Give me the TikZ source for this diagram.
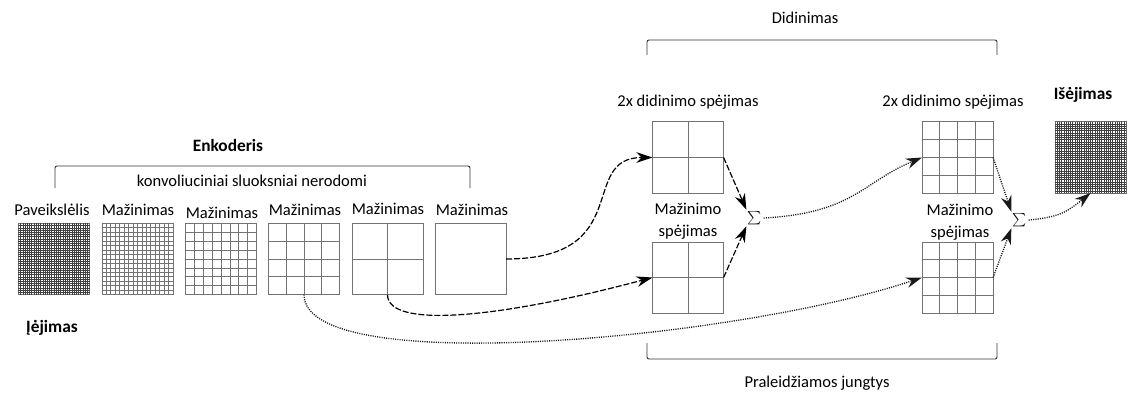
\documentclass[tikz,border=0pt]{standalone}
\usepackage{fontspec}
\setmainfont{Carlito}
\usetikzlibrary{arrows.meta, calc}

\tikzset{
    gridbox/.style={draw=black!55, line width=0.6pt, minimum size=53.4pt, inner sep=0pt, outer sep=0pt},
    gridline/.style={draw=black!55, line width=0.6pt},
    fineline/.style={draw=black!75, line width=0.45pt},
    bracket/.style={draw=black!80, line width=0.7pt, rounded corners=1.5pt},
    dashlink/.style={line width=0.9pt, dash pattern=on 4.5pt off 1.5pt, -{Stealth[length=12pt, width=8pt]}},
    dotlink/.style={draw=black!90, line width=1pt, dash pattern=on 0.8pt off 0.9pt, -{Stealth[length=12pt, width=8pt]}},
    title/.style={font=\fontsize{13}{15}\selectfont\bfseries}
}

% grid of #2 x #2 cells inside node #1
\newcommand{\cellgrid}[3]{%
    \foreach \k in {1,...,#2}{%
        \ifnum\k<#2\relax
            \draw[#3] ($(#1.north west)!\k/#2!(#1.north east)$) -- ($(#1.south west)!\k/#2!(#1.south east)$);
            \draw[#3] ($(#1.north west)!\k/#2!(#1.south west)$) -- ($(#1.north east)!\k/#2!(#1.south east)$);
        \fi}}

\begin{document}
\begin{tikzpicture}[x=0.75pt, y=0.75pt, every node/.style={font=\fontsize{12.4}{16.5}\selectfont}]
    \useasboundingbox (0,0) rectangle (1127,-399);

    % encoder
    \node[gridbox] (in) at (54,-259) {};
    \node[gridbox] (d1) at (137.5,-259) {};
    \node[gridbox] (d2) at (221,-259) {};
    \node[gridbox] (d3) at (304,-259) {};
    \node[gridbox] (d4) at (387.5,-259) {};
    \node[gridbox] (d5) at (470.5,-259) {};
    \cellgrid{in}{32}{fineline}
    \cellgrid{d1}{16}{gridline}
    \cellgrid{d2}{8}{gridline}
    \cellgrid{d3}{4}{gridline}
    \cellgrid{d4}{2}{gridline}

    \node (lin) at (52,-210) {Paveikslėlis};
    \node (ld1) at (138,-210) {Mažinimas};
    \node (ld2) at (222,-213) {Mažinimas};
    \node (ld3) at (305,-210) {Mažinimas};
    \node (ld4) at (388,-209) {Mažinimas};
    \node (ld5) at (472,-210) {Mažinimas};
    \node[title] (enc) at (228,-145) {Enkoderis};
    \node (conv) at (252,-181) {konvoliuciniai sluoksniai nerodomi};
    \node[title] (input) at (52,-328) {Įėjimas};
    \draw[bracket] (55,-188) -- (55,-166) -- (470,-166) -- (470,-188);

    % decoder
    \node[gridbox] (up1) at (688,-157.5) {};
    \node[gridbox] (sk1) at (688,-277.5) {};
    \node[gridbox] (up2) at (957.5,-157.5) {};
    \node[gridbox] (sk2) at (957.5,-277.5) {};
    \node[gridbox, draw=black!60] (out) at (1090.5,-157.5) {};
    \cellgrid{up1}{2}{gridline}
    \cellgrid{sk1}{2}{gridline}
    \cellgrid{up2}{4}{gridline}
    \cellgrid{sk2}{4}{gridline}
    \cellgrid{out}{32}{fineline}
    \node[inner sep=1pt] (sum1) at (755,-218) {$\sum$};
    \node[inner sep=1pt] (sum2) at (1020,-220) {$\sum$};

    \node (lup1) at (688,-102) {2x didinimo spėjimas};
    \node (lup2) at (953,-102) {2x didinimo spėjimas};
    \node[align=center] (lsk1) at (688,-221) {Mažinimo\\spėjimas};
    \node[align=center] (lsk2) at (960,-222) {Mažinimo\\spėjimas};
    \node[title] (output) at (1083,-95) {Išėjimas};
    \node (dec) at (805,-18) {Didinimas};
    \node (skip) at (817,-383) {Praleidžiamos jungtys};
    \draw[bracket] (647,-55) -- (647,-40) -- (997,-40) -- (997,-55);
    \draw[bracket] (647,-343) -- (647,-359) -- (997,-359) -- (997,-343);

    % links
    \draw[dashlink] (d5.east) .. controls +(130,0) and +(-75,0) .. (up1.west);
    \draw[dashlink] (d4.south) .. controls +(0,-35) and +(-150,-40) .. (sk1.west);
    \draw[dotlink] (d3.south) .. controls +(0,-85) and +(-182,-61) .. (sk2.west);
    \draw[dashlink] (up1.east) -- (sum1.north west);
    \draw[dashlink] (sk1.east) -- (sum1.south west);
    \draw[dotlink] (sum1.east) .. controls +(90,5) and +(-60,-25) .. (up2.west);
    \draw[dotlink] (up2.east) -- (sum2.north west);
    \draw[dotlink] (sk2.east) -- (sum2.south west);
    \draw[dotlink] (sum2.east) .. controls +(30,3) and +(-25,-20) .. (out.south);
\end{tikzpicture}
\end{document}
